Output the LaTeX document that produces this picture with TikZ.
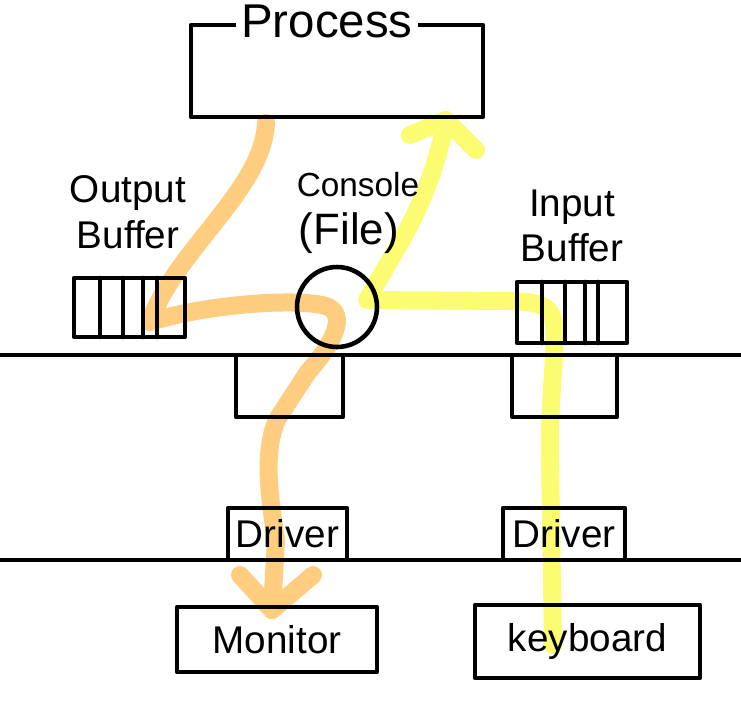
\documentclass[tikz,border=0pt]{standalone}
\usepackage{fontspec}
\setmainfont{Liberation Sans}
\definecolor{outc}{RGB}{255,205,128}
\definecolor{inc}{RGB}{252,252,115}
\begin{document}
\begin{tikzpicture}[x=0.02cm,y=-0.02cm,
    ink/.style={line width=2.6pt,line cap=round,line join=round},
    box/.style={draw,ink,inner sep=0pt,outer sep=0pt},
    lbl/.style={font=\fontsize{22}{26}\selectfont,align=center,inner sep=0pt},
    hl/.style={draw=#1,line width=0.36cm,line cap=round,line join=round}]
  \useasboundingbox (0,0) rectangle (741,725);
  % output path: process -> buffer -> console -> monitor
  \coordinate (o1) at (266,123);
  \coordinate (o2) at (150,322);
  \coordinate (o3) at (322,305);
  \coordinate (o4) at (308,372);
  \coordinate (o5) at (278,418);
  \coordinate (o6) at (276,540);
  \coordinate (o7) at (272,610);
  \coordinate (oa) at (240,575);
  \coordinate (ob) at (313,575);
  \draw[hl=outc] (o1) .. controls (263,190) and (175,250) .. (o2)
    .. controls (200,306) and (285,298) .. (o3)
    .. controls (348,310) and (338,338) .. (o4)
    -- (o5) .. controls (262,450) and (270,500) .. (o6) -- (o7);
  \draw[hl=outc] (oa) -- (o7) -- (ob);
  % input path: keyboard -> buffer -> console -> process
  \coordinate (y1) at (553,645);
  \coordinate (y2) at (550,455);
  \coordinate (y3) at (553,318);
  \coordinate (y4) at (510,301);
  \coordinate (y5) at (367,300);
  \coordinate (y6) at (400,243);
  \coordinate (y7) at (446,120);
  \coordinate (ya) at (410,135);
  \coordinate (yb) at (476,150);
  \draw[hl=inc] (y1) -- (y2) .. controls (549,390) and (558,345) .. (y3)
    .. controls (548,304) and (535,302) .. (y4) -- (y5) -- (y6)
    .. controls (420,208) and (436,170) .. (y7);
  \draw[hl=inc] (ya) -- (y7) -- (yb);
  % process
  \node[box,minimum width=5.84cm,minimum height=1.84cm] (proc) at (337,71) {};
  \node[fill=white,inner sep=3pt,font=\fontsize{27}{30}\selectfont] (proclbl) at (327,21) {Process};
  % buffers and console
  \node[box,minimum width=2.22cm,minimum height=1.18cm] (obuf) at (129.5,307.5) {};
  \foreach \dx in {26,49,69,83}
    \draw[ink] (obuf.north west) ++(\dx,0) -- ++(0,59);
  \node[box,minimum width=2.2cm,minimum height=1.22cm] (ibuf) at (572,312.5) {};
  \foreach \dx in {25,48,68,81}
    \draw[ink] (ibuf.north west) ++(\dx,0) -- ++(0,61);
  \node[draw,ink,circle,minimum size=1.6cm,inner sep=0pt] (cons) at (337,307) {};
  \node[lbl] (outlbl) at (128,212) {Output\\Buffer};
  \node[lbl] (inlbl) at (572,226) {Input\\Buffer};
  \node[inner sep=0pt,font=\fontsize{19}{22}\selectfont] (conlbl) at (358,185) {Console};
  \node[inner sep=0pt,font=\fontsize{25}{28}\selectfont] (filelbl) at (349,233) {(File)};
  % kernel layer
  \draw[ink] (0,355) -- (741,355);
  \node[box,minimum width=2.14cm,minimum height=1.24cm] (kout) at (289.5,386) {};
  \node[box,minimum width=2.1cm,minimum height=1.24cm] (kin) at (564.5,386) {};
  % drivers and devices
  \node[box,lbl,minimum width=2.38cm,minimum height=1.04cm] (drvout) at (287.5,534) {Driver};
  \node[box,lbl,minimum width=2.44cm,minimum height=1.04cm] (drvin) at (564,534) {Driver};
  \draw[ink] (0,560) -- (741,560);
  \node[box,lbl,minimum width=4cm,minimum height=1.3cm] (mon) at (277,639.5) {Monitor};
  \node[box,lbl,minimum width=4.5cm,minimum height=1.46cm] (kbd) at (587.5,641.5) {keyboard};
\end{tikzpicture}
\end{document}
